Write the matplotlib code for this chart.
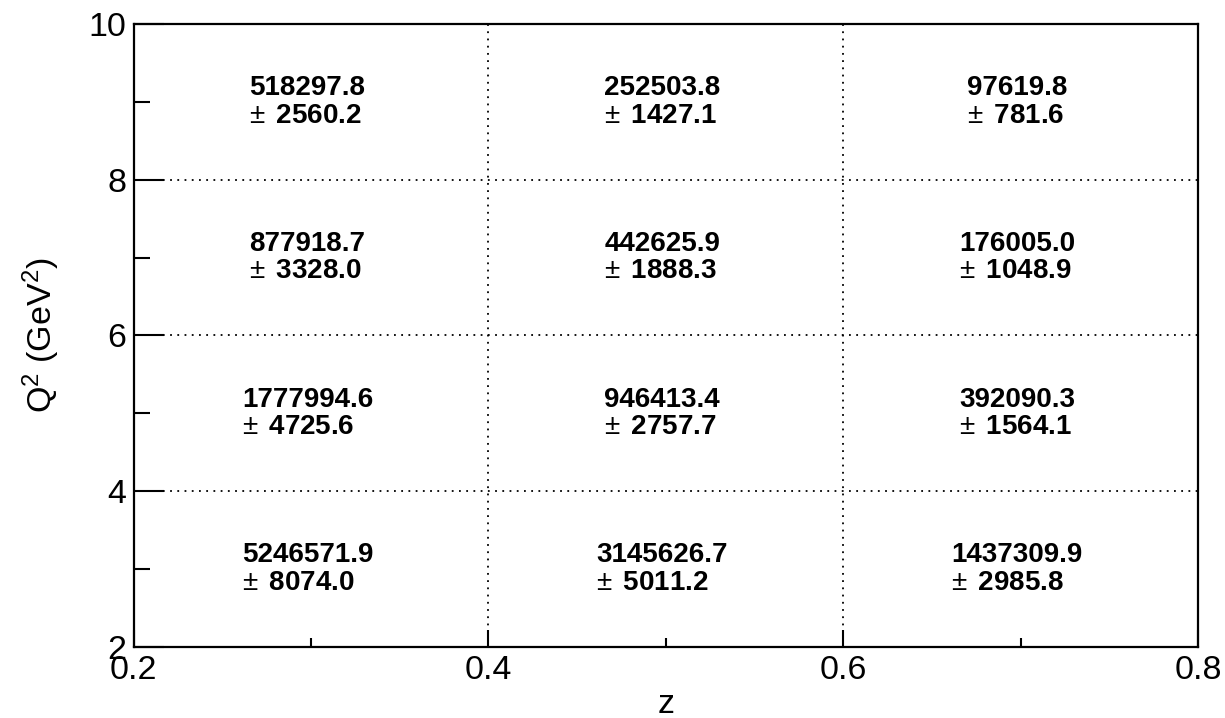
import matplotlib
matplotlib.use("Agg")
import matplotlib.pyplot as plt
from matplotlib.ticker import MultipleLocator, FuncFormatter

plt.rcParams["font.family"] = ["Liberation Sans", "DejaVu Sans"]
plt.rcParams["mathtext.fontset"] = "custom"
plt.rcParams["mathtext.rm"] = "Liberation Sans"
plt.rcParams["mathtext.it"] = "Liberation Sans:italic"
plt.rcParams["mathtext.bf"] = "Liberation Sans:bold"

# bin edges
z_edges = [0.2, 0.4, 0.6, 0.8]
q2_edges = [2, 4, 6, 8, 10]

# yields per bin, rows = Q2 bins (low -> high), cols = z bins
counts = [
    [5246571.9, 3145626.7, 1437309.9],
    [1777994.6, 946413.4, 392090.3],
    [877918.7, 442625.9, 176005.0],
    [518297.8, 252503.8, 97619.8],
]
errors = [
    [8074.0, 5011.2, 2985.8],
    [4725.6, 2757.7, 1564.1],
    [3328.0, 1888.3, 1048.9],
    [2560.2, 1427.1, 781.6],
]

fig = plt.figure(figsize=(12.25, 7.18), dpi=100)
ax = fig.add_axes([0.109, 0.099, 0.869, 0.8675])
ax.set_xlim(z_edges[0], z_edges[-1])
ax.set_ylim(q2_edges[0], q2_edges[-1])

# dotted grid at the inner bin edges
for x in z_edges[1:-1]:
    ax.axvline(x, color="black", ls=(0, (1, 3)), lw=1.3)
for y in q2_edges[1:-1]:
    ax.axhline(y, color="black", ls=(0, (1, 3)), lw=1.3)

for i in range(len(q2_edges) - 1):
    yc = 0.5 * (q2_edges[i] + q2_edges[i + 1])
    for j in range(len(z_edges) - 1):
        xc = 0.5 * (z_edges[j] + z_edges[j + 1])
        txt = f"{counts[i][j]:.1f}\n$\\pm\\,$ {errors[i][j]:.1f}"
        ax.text(xc - 0.002, yc, txt, ha="center", va="center", multialignment="left",
                fontsize=20, fontweight="bold", linespacing=1.08)

ax.xaxis.set_major_locator(MultipleLocator(0.2))
ax.xaxis.set_minor_locator(MultipleLocator(0.1))
ax.yaxis.set_major_locator(MultipleLocator(2))
ax.yaxis.set_minor_locator(MultipleLocator(1))
ax.tick_params(axis="x", which="major", direction="in", length=12, width=1.5,
               labelsize=24.5, pad=6)
ax.tick_params(axis="x", which="minor", direction="in", length=6.5, width=1.5)
ax.tick_params(axis="y", which="major", direction="in", length=21.5, width=1.5,
               labelsize=24.5, pad=5)
ax.tick_params(axis="y", which="minor", direction="in", length=11.5, width=1.5)
ax.tick_params(top=False, right=False, which="both")
ax.xaxis.set_major_formatter(FuncFormatter(lambda v, p: f"{v:.1f}"))
ax.yaxis.set_major_formatter(FuncFormatter(lambda v, p: f"{v:.0f}"))
for s in ax.spines.values():
    s.set_linewidth(1.6)

ax.set_xlabel("z", fontsize=24.5, va="baseline")
ax.xaxis.set_label_coords(0.5, -0.106)
ax.set_ylabel("Q$^{2}$ (GeV$^{2}$)", fontsize=24.5)
ax.yaxis.set_label_coords(-0.067, 0.5)

fig.savefig("out.png", dpi=100)
